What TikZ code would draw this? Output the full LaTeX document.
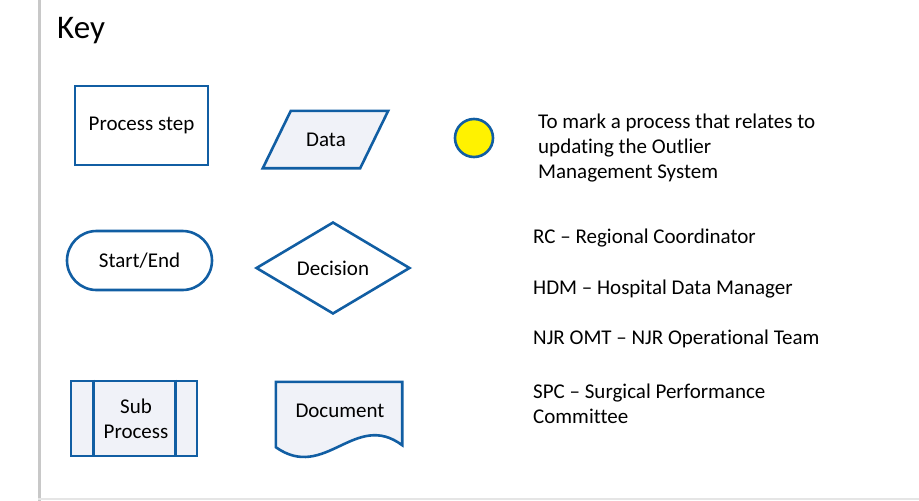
\documentclass[tikz,border=0pt]{standalone}
\usepackage{fontspec}
\setmainfont{Carlito}[Ligatures=NoCommon]
\usetikzlibrary{shapes.geometric}

\definecolor{keyblue}{HTML}{115EA3}
\definecolor{keyfill}{HTML}{F0F2F8}
\definecolor{keyline}{HTML}{C8C8C8}

\tikzset{
  keyshape/.style={draw=keyblue, line width=2.6pt, align=center, inner sep=0pt},
  keyoutline/.style={draw=keyblue, line width=2.6pt, line join=miter},
  keytext/.style={anchor=west, align=left, inner sep=0pt},
}

\begin{document}
\begin{tikzpicture}[x=1pt, y=-1pt, font=\fontsize{21}{25}\selectfont]
    % Fix the page size
    \useasboundingbox (0,0) rectangle (919,501);

    % Draw the frame lines
    \draw[keyline, line width=3pt] (39,0) -- (39,501);
    \draw[gray!20, line width=1.5pt] (38,499) -- (919,499);

    % Title
    \node[anchor=west, inner sep=0pt, font=\fontsize{33}{40}\selectfont] (keytitle) at (57,31) {Key};

    % First row of symbols
    \node[keyshape, fill=white, minimum width=133pt, minimum height=79pt] (procstep) at (141.5,125.5) {Process step};
    \node[minimum width=97pt, minimum height=57pt, inner sep=0pt] (data) at (325.5,139.5) {};
    \draw[keyoutline, fill=keyfill]
      ([xshift=14pt]data.north west) -- ([xshift=14pt]data.north east)
      -- ([xshift=-14pt]data.south east) -- ([xshift=-14pt]data.south west) -- cycle;
    \node[inner sep=0pt] (datatext) at (326,140) {Data};
    \node[draw=keyblue, line width=2.6pt, fill=yellow, circle, minimum size=38pt, inner sep=0pt] (omsdot) at (474,138) {};
    \node[keytext] (omstext) at (538,148) {To mark a process that relates to\\updating the Outlier\\Management System};

    % Second row of symbols
    \node[keyshape, fill=white, rounded corners=29.5pt, minimum width=145pt, minimum height=59pt] (startend) at (139.5,260.5) {Start/End};
    \node[keyshape, fill=white, diamond, minimum width=154pt, minimum height=92pt] (decision) at (333,268) {Decision};

    % Third row of symbols
    \node[keyshape, fill=keyfill, minimum width=126pt, minimum height=75pt] (subproc) at (134,418.5) {};
    \draw[keyblue, line width=2.6pt] ([xshift=24pt]subproc.north west) -- ([xshift=24pt]subproc.south west);
    \draw[keyblue, line width=2.6pt] ([xshift=-23pt]subproc.north east) -- ([xshift=-23pt]subproc.south east);
    \node[align=center, inner sep=0pt] (subtext) at (136,419) {Sub\\Process};

    \node[minimum width=126pt, minimum height=65pt, inner sep=0pt] (document) at (339,414.5) {};
    \draw[keyoutline, fill=keyfill]
      (document.south west) -- (document.north west) -- (document.north east)
      -- ([yshift=2pt]document.south east)
      .. controls (355,410) and (325,482) .. (document.south west) -- cycle;
    \node[inner sep=0pt] (doctext) at (340,411) {Document};

    % Abbreviations
    \node[keytext] (rctext) at (533,238) {RC – Regional Coordinator};
    \node[keytext] (hdmtext) at (533,289) {HDM – Hospital Data Manager};
    \node[keytext] (omttext) at (533,339) {NJR OMT – NJR Operational Team};
    \node[keytext] (spctext) at (533,403.5) {SPC – Surgical Performance\\Committee};
\end{tikzpicture}
\end{document}
